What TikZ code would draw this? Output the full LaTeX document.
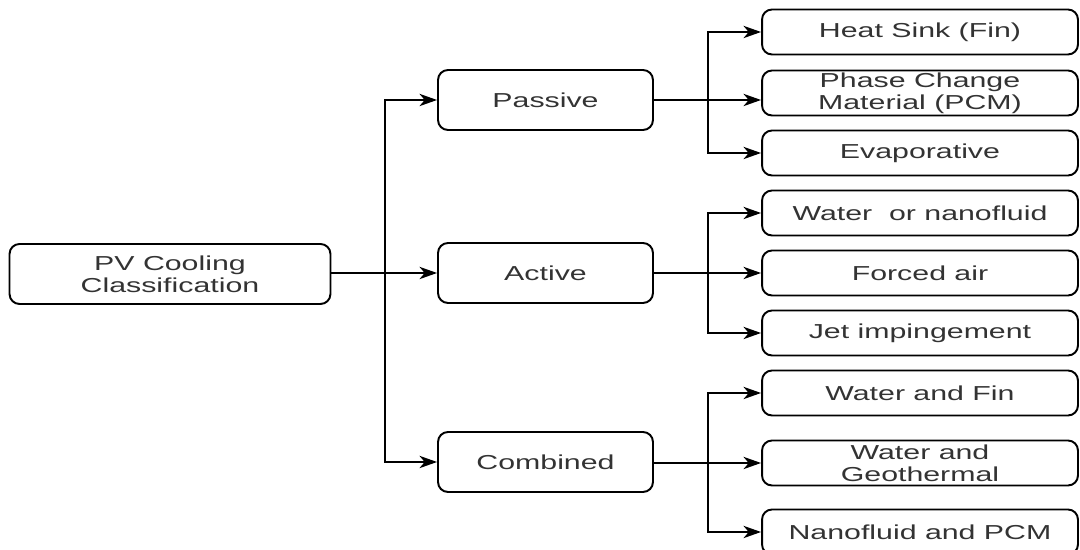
\documentclass[tikz,border=0pt]{standalone}
\usepackage{fontspec}
\setmainfont{Liberation Sans}[FakeStretch=1.5]
\usepackage{tikz}
\usetikzlibrary{
    arrows.meta,
    positioning
}

\begin{document}
\begin{tikzpicture}[x=0.02cm,y=-0.02cm,->,>={Stealth[length=10pt,width=7pt,inset=3pt]},line width=1.1pt]
    \tikzstyle{box}=[draw, rounded corners=0.2cm, align=center, text=black!80,
        font=\fontsize{11.5}{12.5}\selectfont, inner sep=0pt]
    \tikzstyle{root}=[box, minimum width=6.42cm, minimum height=1.2cm]
    \tikzstyle{kind}=[box, minimum width=4.3cm, minimum height=1.2cm]
    \tikzstyle{leaf}=[box, minimum width=6.32cm, minimum height=0.9cm]
    \useasboundingbox (0,0) rectangle (1080,550);
    \node[root] (pv) at (170, 274) {PV Cooling\\Classification};
    \node[kind] (pas) at (545.5, 100) {Passive};
    \node[kind] (act) at (545.5, 273) {Active};
    \node[kind] (com) at (545.5, 462) {Combined};
    \node[leaf] (hs) at (920, 32) {Heat Sink (Fin)};
    \node[leaf] (pcm) at (920, 93) {Phase Change\\Material (PCM)};
    \node[leaf] (ev) at (920, 153) {Evaporative};
    \node[leaf] (wn) at (920, 213) {Water~ or nanofluid};
    \node[leaf] (fa) at (920, 273) {Forced air};
    \node[leaf] (ji) at (920, 333) {Jet impingement};
    \node[leaf] (wf) at (920, 393) {Water and Fin};
    \node[leaf] (wg) at (920, 463) {Water and\\Geothermal};
    \node[leaf] (np) at (920, 532) {Nanofluid and PCM};
    % branch points
    \coordinate (t0) at (385, 273);
    \coordinate (t1) at (708, 100);
    \coordinate (t2) at (708, 273);
    \coordinate (t3) at (708, 463);
    \draw (pv.east |- t0) -- (act.west);
    \draw (t0) |- (pas.west);
    \draw (t0) |- (com.west);
    \draw (pas.east) -- (pas.east -| pcm.west);
    \draw (t1) |- (hs.west);
    \draw (t1) |- (ev.west);
    \draw (act.east) -- (fa.west);
    \draw (t2) |- (wn.west);
    \draw (t2) |- (ji.west);
    \draw (com.east |- t3) -- (wg.west);
    \draw (t3) |- (wf.west);
    \draw (t3) |- (np.west);
\end{tikzpicture}
\end{document}
